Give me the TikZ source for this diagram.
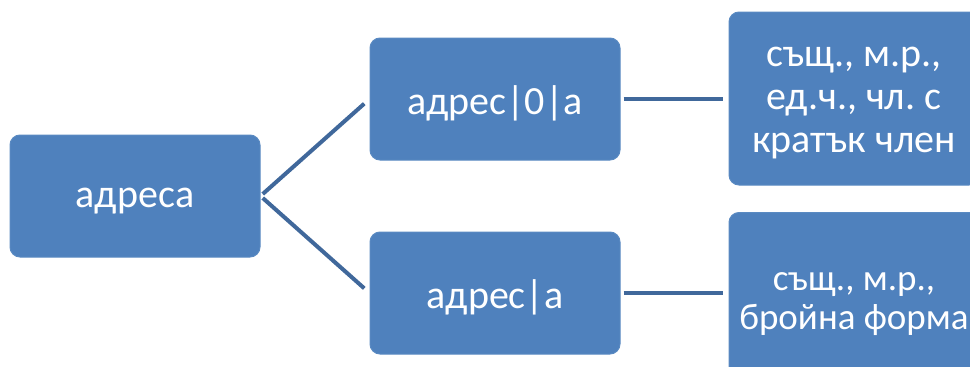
\documentclass[tikz,border=0pt]{standalone}
\usepackage{fontspec}
\setmainfont{Carlito}
\frenchspacing
\begin{document}
\begin{tikzpicture}[x=1pt,y=-1pt,
  box/.style={draw=boxedge, line width=1pt, fill=boxfill, rounded corners=10pt,
    minimum width=250pt, inner sep=0pt},
  lbl/.style={text=white, align=center, inner sep=0pt,
    font=\fontsize{40}{43}\selectfont},
  conn/.style={draw=linecol, line width=4pt}]
\definecolor{boxfill}{HTML}{4F81BD}
\definecolor{boxedge}{HTML}{5A8AC2}
\definecolor{linecol}{HTML}{40689B}
\useasboundingbox (0,0) rectangle (970,367);
\clip (0,0) rectangle (970,367);
% boxes of the tree of word forms
\node[box, minimum height=122pt] (L)  at (135,196) {};
\node[box, minimum height=122pt] (M1) at (495,99)  {};
\node[box, minimum height=122pt] (M2) at (495,293) {};
\node[box, minimum height=173pt] (R1) at (854,98.5) {};
\node[box, minimum height=175pt] (R2) at (854,300) {};
% their labels, set a little below the geometric centre
\node[lbl] (tL)  at ([yshift=-5pt]L.center)  {адреса};
\node[lbl] (tM1) at ([yshift=-4pt]M1.center) {адрес|0|а};
\node[lbl] (tM2) at ([yshift=-4pt]M2.center) {адрес|а};
\node[lbl] (tR1) at ([yshift=-5pt]R1.center) {същ., м.р.,\\ед.ч., чл. с\\кратък член};
\node[lbl, font=\fontsize{37}{39}\selectfont] (tR2) at ([yshift=-4pt]R2.center) {същ., м.р.,\\бройна форма};
% connectors
\draw[conn, shorten <=3pt, shorten >=7pt] (L.east) -- (M1.west);
\draw[conn, shorten <=3pt, shorten >=7pt] (L.east) -- (M2.west);
\draw[conn, shorten <=3pt, shorten >=6pt] (M1.east) -- (R1.west |- M1.east);
\draw[conn, shorten <=3pt, shorten >=6pt] (M2.east) -- (R2.west |- M2.east);
\end{tikzpicture}
\end{document}
